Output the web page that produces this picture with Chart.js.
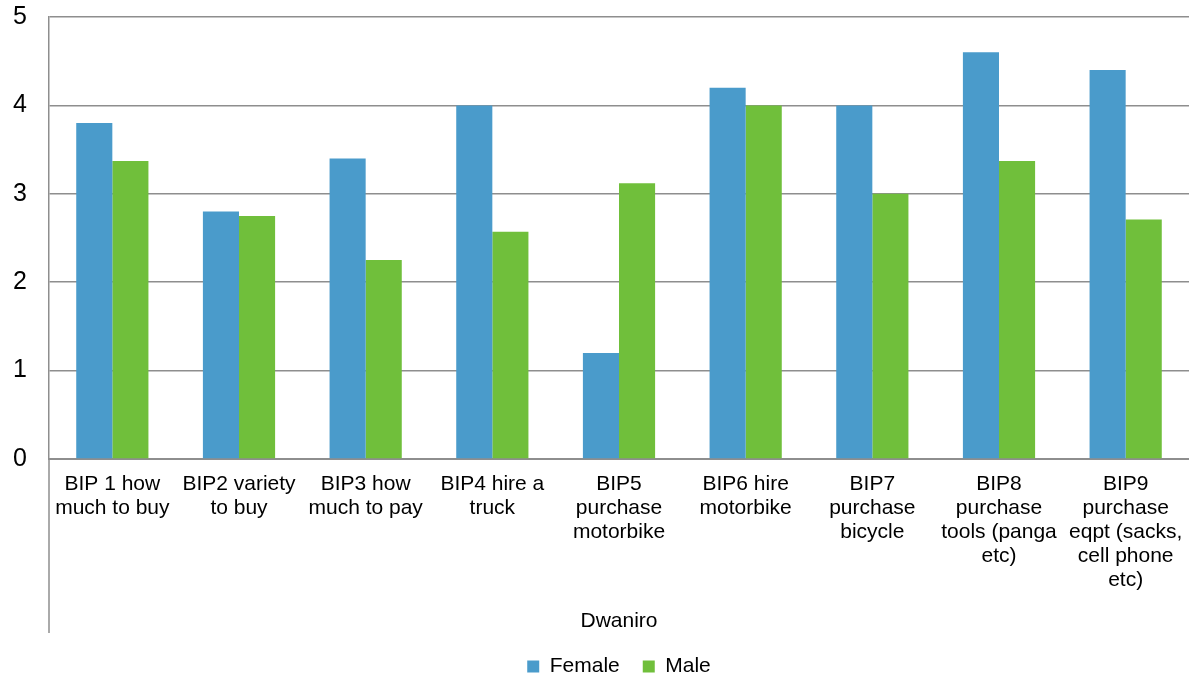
<!DOCTYPE html>
<html>
<head>
<meta charset="utf-8">
<script src="https://cdn.jsdelivr.net/npm/chart.js@4.4.1/dist/chart.umd.min.js"></script>
<style>
  html, body { margin: 0; padding: 0; background: #ffffff; }
  #wrap { width: 1189px; height: 677px; }
</style>
</head>
<body>
<div id="wrap"><canvas id="chart" width="1189" height="677"></canvas></div>
<script>
// Category labels (multi-line) under each pair of bars
const categories = [
  ["BIP 1 how", "much to buy"],
  ["BIP2 variety", "to buy"],
  ["BIP3 how", "much to pay"],
  ["BIP4 hire a", "truck"],
  ["BIP5", "purchase", "motorbike"],
  ["BIP6 hire", "motorbike"],
  ["BIP7", "purchase", "bicycle"],
  ["BIP8", "purchase", "tools (panga", "etc)"],
  ["BIP9", "purchase", "eqpt (sacks,", "cell phone", "etc)"]
];
const groupLabel = "Dwaniro";

const femaleValues = [3.8, 2.8, 3.4, 4.0, 1.2, 4.2, 4.0, 4.6, 4.4];
const maleValues   = [3.37, 2.75, 2.25, 2.57, 3.12, 4.0, 3.0, 3.37, 2.71];

const yTicks = [0, 1, 2, 3, 4, 5];

const FONT = "'Liberation Sans', Arial, sans-serif";
const GRID = "#8e8e8e";

// Draws the group label under the category labels and the
// vertical axis line that runs down beside them.
const groupAxis = {
  id: "groupAxis",
  afterDraw(chart) {
    const { ctx, chartArea, scales } = chart;
    const xs = scales.x;
    ctx.save();
    ctx.strokeStyle = GRID;
    ctx.lineWidth = 1.5;
    ctx.beginPath();
    ctx.moveTo(chartArea.left, chartArea.bottom);
    ctx.lineTo(chartArea.left, xs.bottom);
    ctx.stroke();
    ctx.fillStyle = "#000";
    ctx.font = "21px " + FONT;
    ctx.textAlign = "center";
    ctx.textBaseline = "middle";
    ctx.fillText(groupLabel, (chartArea.left + chartArea.right) / 2, xs.bottom - 12);
    ctx.restore();
  }
};

new Chart(document.getElementById("chart"), {
  type: "bar",
  data: {
    labels: categories,
    datasets: [
      { label: "Female", data: femaleValues, backgroundColor: "#4a9bcb", borderWidth: 0 },
      { label: "Male", data: maleValues, backgroundColor: "#70bf3b", borderWidth: 0 }
    ]
  },
  options: {
    responsive: false,
    animation: false,
    devicePixelRatio: 1,
    layout: { padding: { top: 17, right: 0, left: 0, bottom: -10 } },
    datasets: { bar: { categoryPercentage: 0.57, barPercentage: 1.0 } },
    plugins: {
      tooltip: { enabled: false },
      legend: {
        position: "bottom",
        fullSize: false,
        labels: {
          color: "#000",
          font: { size: 21, family: FONT },
          boxWidth: 12,
          boxHeight: 12,
          padding: 23
        }
      }
    },
    scales: {
      x: {
        grid: { display: false, drawTicks: false },
        border: { display: true, color: GRID, width: 2 },
        ticks: {
          color: "#000",
          maxRotation: 0,
          autoSkip: false,
          padding: 13,
          font: { size: 21, family: FONT, lineHeight: 1.143 }
        },
        afterFit(scale) {
          scale.height = 174;
          scale.paddingLeft = 0;
          scale.paddingRight = 0;
        }
      },
      y: {
        min: 0,
        max: 5,
        afterBuildTicks(scale) { scale.ticks = yTicks.map(v => ({ value: v })); },
        grid: { color: GRID, lineWidth: 1.5, drawTicks: false },
        border: { display: true, color: GRID, width: 1.5 },
        ticks: {
          color: "#000",
          padding: 22,
          font: { size: 25, family: FONT }
        },
        afterFit(scale) {
          scale.width = 49;
          scale.paddingTop = 0;
          scale.paddingBottom = 0;
        }
      }
    }
  },
  plugins: [groupAxis]
});
</script>
</body>
</html>
